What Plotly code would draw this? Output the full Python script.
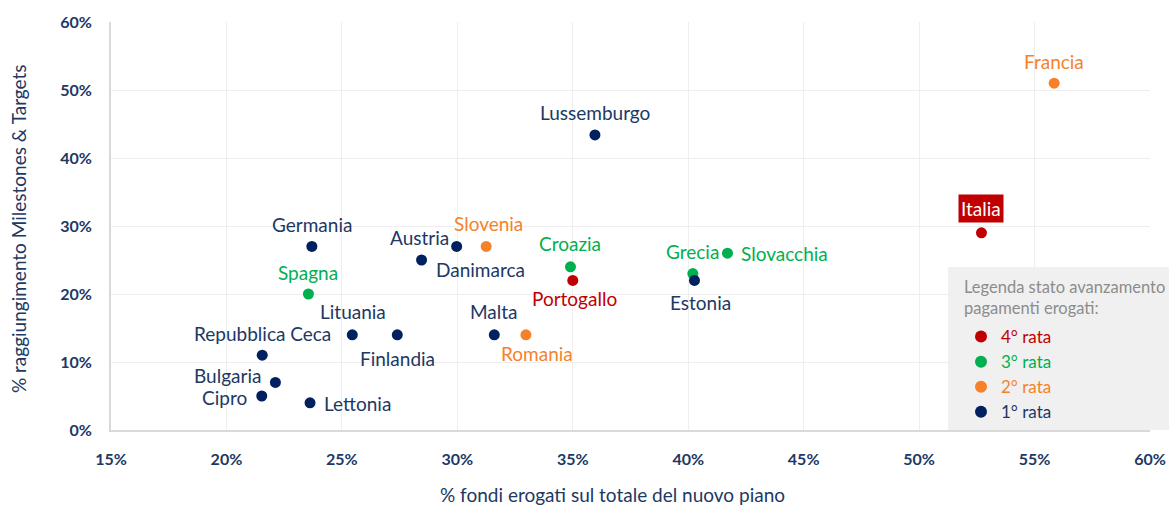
import plotly.graph_objects as go

# ---- data ----
countries = ["Francia", "Lussemburgo", "Italia", "Germania", "Spagna", "Austria",
             "Slovenia", "Danimarca", "Croazia", "Portogallo", "Grecia", "Slovacchia",
             "Estonia", "Lituania", "Finlandia", "Malta", "Romania",
             "Repubblica Ceca", "Bulgaria", "Cipro", "Lettonia"]
fondi_erogati = [55.85, 35.96, 52.7, 23.7, 23.55, 29.97,
                 31.25, 28.45, 34.9, 35.0, 40.2, 41.7,
                 40.27, 25.45, 27.4, 31.6, 32.97,
                 21.55, 22.12, 21.53, 23.62]
milestones = [51.0, 43.4, 29.0, 27.0, 20.0, 27.0,
              27.0, 25.0, 24.0, 22.0, 23.0, 26.0,
              22.0, 14.0, 14.0, 14.0, 14.0,
              11.0, 7.0, 5.0, 4.0]
rata = [2, 1, 4, 1, 3, 1,
        2, 1, 3, 4, 3, 3,
        1, 1, 1, 1, 2,
        1, 1, 1, 1]

x_ticks = [15, 20, 25, 30, 35, 40, 45, 50, 55, 60]
y_ticks = [0, 10, 20, 30, 40, 50, 60]

legend_order = [4, 3, 2, 1]
legend_names = {4: "4° rata", 3: "3° rata", 2: "2° rata", 1: "1° rata"}
legend_title = "Legenda stato avanzamento<br>pagamenti erogati:"

# ---- styles ----
dot_colors = {4: "#c00000", 3: "#00b050", 2: "#f5822a", 1: "#002060"}
text_colors = {4: "#c00000", 3: "#00b050", 2: "#f5822a", 1: "#203864"}
FONT = "Lato"
NAVY = "#203864"
L, R, T, B = 111, 19, 22, 76
PW, PH = 1169 - L - R, 506 - T - B


def px_x(p):
    return (p - L) / PW


def px_y(p):
    return (T + PH - p) / PH


# label placement: (xanchor, dx px, dy px up)
label_pos = {
    "Francia": ("center", 0, 22), "Lussemburgo": ("center", 0, 22),
    "Italia": ("center", 0, 24), "Germania": ("center", 0, 22),
    "Spagna": ("center", 0, 22), "Austria": ("right", -7, 9),
    "Slovenia": ("center", 2, 23), "Danimarca": ("left", 13, -9),
    "Croazia": ("center", 0, 23), "Portogallo": ("center", 2, -18),
    "Grecia": ("center", 0, 22), "Slovacchia": ("left", 13, 0),
    "Estonia": ("center", 6, -22), "Lituania": ("center", 1, 23),
    "Finlandia": ("center", 0, -24), "Malta": ("center", 0, 23),
    "Romania": ("center", 11, -19), "Repubblica Ceca": ("center", 0, 22),
    "Bulgaria": ("right", -13, 7), "Cipro": ("right", -14, -1),
    "Lettonia": ("left", 13, -1),
}

fig = go.Figure()

for r in legend_order:
    idx = [i for i, v in enumerate(rata) if v == r]
    fig.add_trace(go.Scatter(
        x=[fondi_erogati[i] for i in idx],
        y=[milestones[i] for i in idx],
        mode="markers",
        marker=dict(size=11, color=dot_colors[r]),
        name=f"<span style='color:{text_colors[r]}'>{legend_names[r]}</span>",
        hoverinfo="skip",
    ))

annotations = []
for c, xv, yv, r in zip(countries, fondi_erogati, milestones, rata):
    xa, dx, dy = label_pos[c]
    is_it = c == "Italia"
    annotations.append(dict(
        x=xv, y=yv, xref="x", yref="y", text=c, showarrow=False,
        xanchor=xa, yanchor="middle", xshift=dx, yshift=dy,
        font=dict(family=FONT, size=19, color="white" if is_it else text_colors[r]),
        bgcolor="#c00000" if is_it else None,
        borderpad=2 if is_it else 0,
    ))

annotations.append(dict(
    x=px_x(612), y=px_y(495), xref="paper", yref="paper", yanchor="middle",
    text="% fondi erogati sul totale del nuovo piano", showarrow=False,
    font=dict(family=FONT, size=19, color=NAVY)))
annotations.append(dict(
    x=px_x(18), y=px_y(229), xref="paper", yref="paper", textangle=-90,
    xanchor="center", yanchor="middle",
    text="% raggiungimento Milestones & Targets", showarrow=False,
    font=dict(family=FONT, size=19, color=NAVY)))
annotations.append(dict(
    x=px_x(962), y=px_y(275), xref="paper", yref="paper",
    xanchor="left", yanchor="top", align="left",
    text=legend_title, showarrow=False,
    font=dict(family=FONT, size=16.5, color="#8c8c8c")))

fig.update_layout(
    width=1169, height=506,
    margin=dict(l=L, r=R, t=T, b=B),
    paper_bgcolor="white", plot_bgcolor="white",
    font=dict(family=FONT, color=NAVY),
    annotations=annotations,
    shapes=[dict(type="rect", xref="paper", yref="paper",
                 x0=px_x(948), x1=px_x(1169), y0=0, y1=px_y(267),
                 fillcolor="#f0f0f0", line=dict(width=0), layer="below")],
    showlegend=True,
    legend=dict(
        x=px_x(961), y=px_y(319), xanchor="left", yanchor="top",
        bgcolor="rgba(0,0,0,0)", borderwidth=0,
        font=dict(family=FONT, size=17),
        itemsizing="constant", traceorder="normal", tracegroupgap=0,
    ),
)

fig.update_xaxes(
    range=[15, 60], tickvals=x_ticks, ticktext=[f"<b>{v}%</b>" for v in x_ticks],
    tickfont=dict(family=FONT, size=16, color=NAVY),
    showgrid=True, gridcolor="#eeeeee", gridwidth=1,
    showline=True, linecolor="#d9d9d9", linewidth=2,
    zeroline=False, ticks="", ticklabelstandoff=14, automargin=False,
)
fig.update_yaxes(
    range=[0, 60], tickvals=y_ticks, ticktext=[f"<b>{v}%</b>" for v in y_ticks],
    tickfont=dict(family=FONT, size=16, color=NAVY),
    showgrid=True, gridcolor="#eeeeee", gridwidth=1,
    showline=True, linecolor="#d9d9d9", linewidth=2,
    zeroline=False, ticks="", ticklabelstandoff=14, automargin=False,
)

fig.write_html("out.html", config={"displayModeBar": False},
               post_script="document.body.style.margin='0';document.body.style.overflow='hidden';")
